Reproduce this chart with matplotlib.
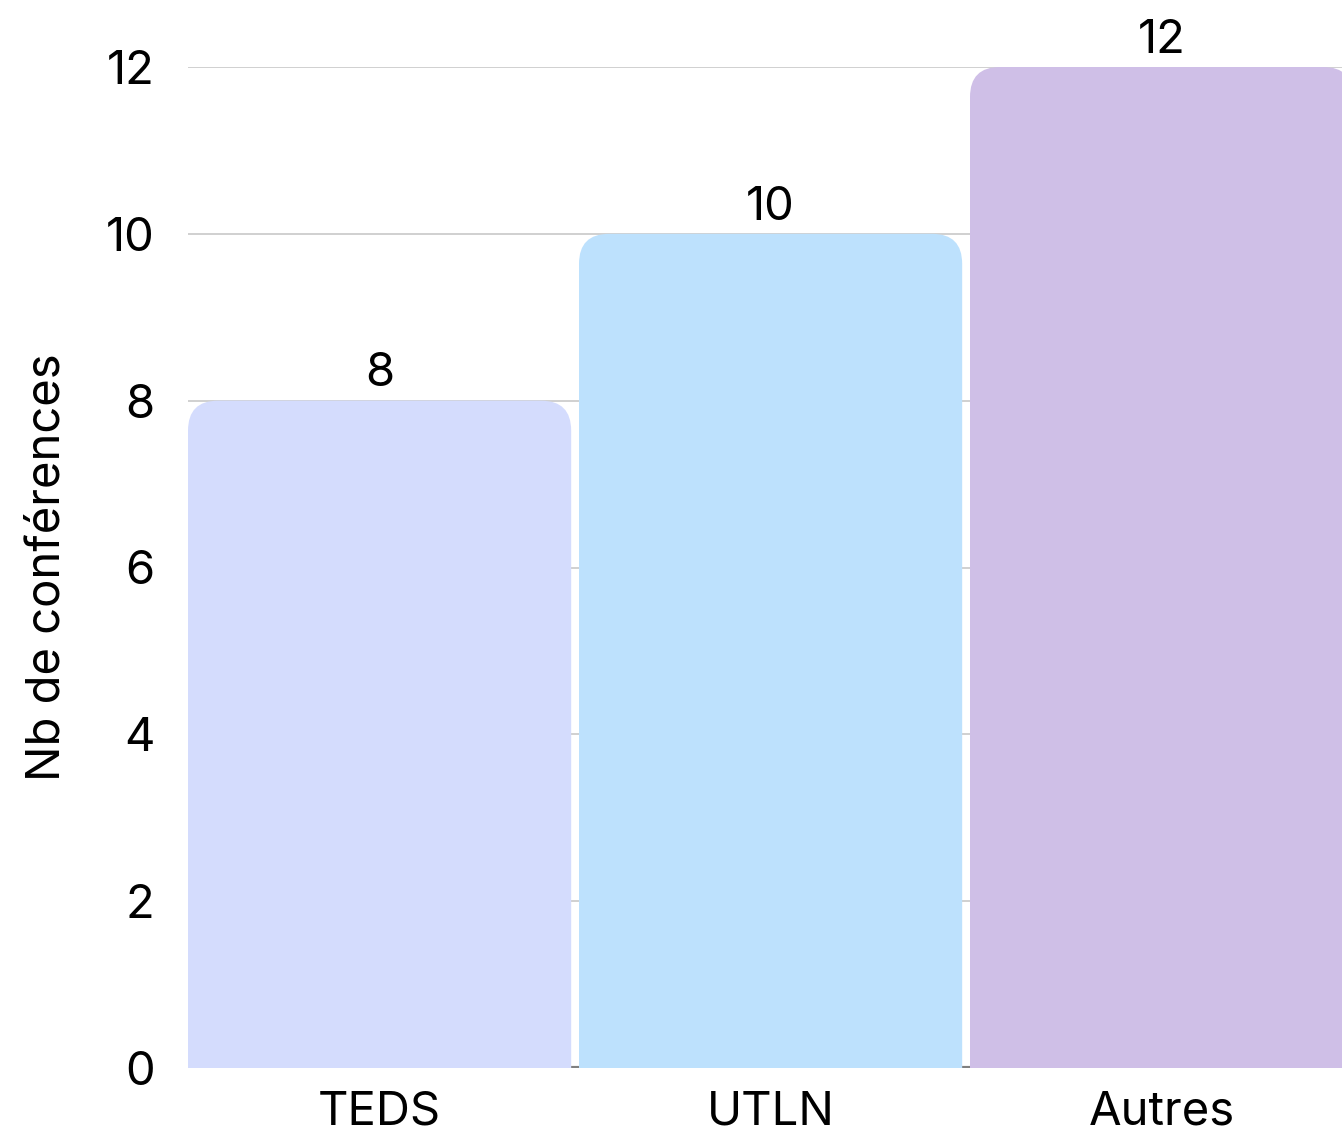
import matplotlib.pyplot as plt
from matplotlib.patches import FancyBboxPatch

categories = ["TEDS", "UTLN", "Autres"]
values = [8, 10, 12]
colors = ["#D4DCFD", "#BDE1FD", "#CFBFE7"]
yticks = [0, 2, 4, 6, 8, 10, 12]

plt.rcParams['font.family'] = ['Inter', 'DejaVu Sans']

W, H = 1342, 1132
fig = plt.figure(figsize=(W / 100, H / 100), dpi=100)
# axes run past the right edge of the figure, like the original
ax = fig.add_axes([188 / W, (H - 1068) / H, 1173 / W, (1068 - 67) / H])

ax.set_xlim(-0.49, 2.51)
ax.set_ylim(0, 12)

bar_w = 0.98
bars = ax.bar(range(len(categories)), values, width=bar_w, color=colors, zorder=3)

# swap the plain rectangles for ones with rounded top corners
px_x = 1173 / 3.0          # pixels per x unit
px_y = (1068 - 67) / 12.0  # pixels per y unit
radius_px = 30
for b in bars:
    b.set_visible(False)
    x, w, h = b.get_x(), b.get_width(), b.get_height()
    patch = FancyBboxPatch((x, -2), w, h + 2,
                           boxstyle="round,pad=0,rounding_size=%f" % (radius_px / px_x),
                           mutation_aspect=px_x / px_y,
                           facecolor=b.get_facecolor(), edgecolor="none", zorder=3)
    ax.add_patch(patch)

for i, v in enumerate(values):
    ax.text(i, v + 0.05, str(v), ha="center", va="bottom", fontsize=34, color="black", clip_on=False)

ax.set_xticks(range(len(categories)))
ax.set_xticklabels(categories, fontsize=34)
ax.set_yticks(yticks)
ax.set_yticklabels([str(t) for t in yticks], fontsize=34)
ax.tick_params(axis="both", length=0)
ax.tick_params(axis="y", pad=24)
ax.tick_params(axis="x", pad=16)

ax.grid(axis="y", color="#C8C8C8", linewidth=1.2, zorder=0)
ax.set_axisbelow(True)
for s in ["top", "right", "left", "bottom"]:
    ax.spines[s].set_visible(False)
# baseline only shows in the gaps between bars
ax.axhline(0, color="#808080", linewidth=3, zorder=1)

ax.set_ylabel("Nb de conférences", fontsize=34, labelpad=26)

fig.savefig("out.png", dpi=100)
